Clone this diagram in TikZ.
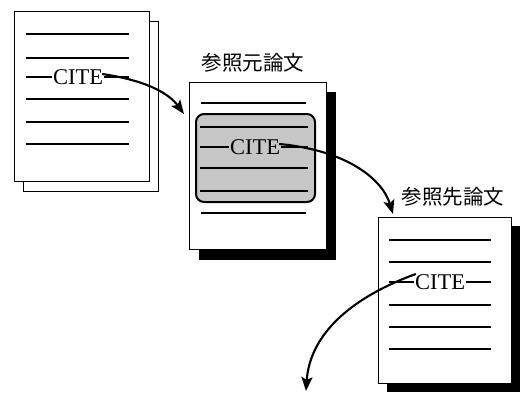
\documentclass[tikz,border=0pt]{standalone}
\usepackage{fontspec}
\setmainfont{Liberation Serif}
\newfontfamily\jpfont{Noto Sans CJK JP}
\usetikzlibrary{arrows.meta}
\tikzset{
  page/.style={draw=black, line width=1.1pt, fill=white, anchor=north west, inner sep=0pt},
  shadowbox/.style={fill=black, draw=none, anchor=north west, inner sep=0pt},
  txtline/.style={line width=1.1pt},
  boxline/.style={line width=2pt},
  cite/.style={font=\fontsize{22.5}{22.5}\selectfont, inner sep=1pt},
  title/.style={font=\jpfont\fontsize{20.5}{20.5}\selectfont, inner sep=0pt},
  arr/.style={line width=2.1pt, -{Stealth[length=14pt,width=11pt,inset=3pt]}},
  hilite/.style={draw=black, line width=2pt, fill=gray!45, rounded corners=8pt, anchor=north west, inner sep=0pt}
}
\begin{document}
\begin{tikzpicture}[x=1pt,y=-1pt]
\useasboundingbox (0,0) rectangle (523,394);
% ---------- document 1 (stack of two pages)
\node[page, minimum width=135pt, minimum height=170pt] (d1b) at (23,21) {};
\node[page, minimum width=135pt, minimum height=170pt] (d1) at (14,11) {};
\foreach \y in {34,58,99,122,144} \draw[txtline] (26,\y) -- (129,\y);
\node[cite] (c1) at (78,77) {CITE};
\draw[txtline] (26,77) -- (c1.west);
\draw[txtline] (c1.east) -- (129,77);
% ---------- document 2
\node[shadowbox, minimum width=137pt, minimum height=168pt] (s2) at (199,92) {};
\node[page, minimum width=137pt, minimum height=167pt] (d2) at (189,82) {};
\node[title] (t2) at (253,63) {参照元論文};
\draw[txtline] (201,103) -- (306,103);
\draw[txtline] (201,213) -- (306,213);
\node[hilite, minimum width=119pt, minimum height=88pt] (hb) at (195,113) {};
\foreach \y in {127,168,191} \draw[boxline] (200,\y) -- (308,\y);
\node[cite] (c2) at (255,147) {CITE};
\draw[boxline] (200,147) -- (c2.west);
\draw[boxline] (c2.east) -- (308,147);
% ---------- document 3
\node[shadowbox, minimum width=133pt, minimum height=166pt] (s3) at (387,226) {};
\node[page, minimum width=133pt, minimum height=166pt] (d3) at (378,217) {};
\node[title] (t3) at (453,197) {参照先論文};
\foreach \y in {240,262,305,327,349} \draw[txtline] (389,\y) -- (491,\y);
\node[cite] (c3) at (440,282) {CITE};
\draw[txtline] (389,282) -- (c3.west);
\draw[txtline] (c3.east) -- (491,282);
% ---------- arrows
\coordinate (e1) at (184,114);
\coordinate (e2) at (393,214);
\coordinate (e3) at (306,391);
\draw[arr] ([xshift=-2pt,yshift=3pt]c1.east) .. controls (150,81) and (170,95) .. (e1);
\draw[arr] ([xshift=-2pt,yshift=3pt]c2.east) .. controls (345,150) and (382,178) .. (e2);
\draw[arr] ([xshift=2pt,yshift=8pt]c3.west) .. controls (355,296) and (310,332) .. (e3);
\end{tikzpicture}
\end{document}
